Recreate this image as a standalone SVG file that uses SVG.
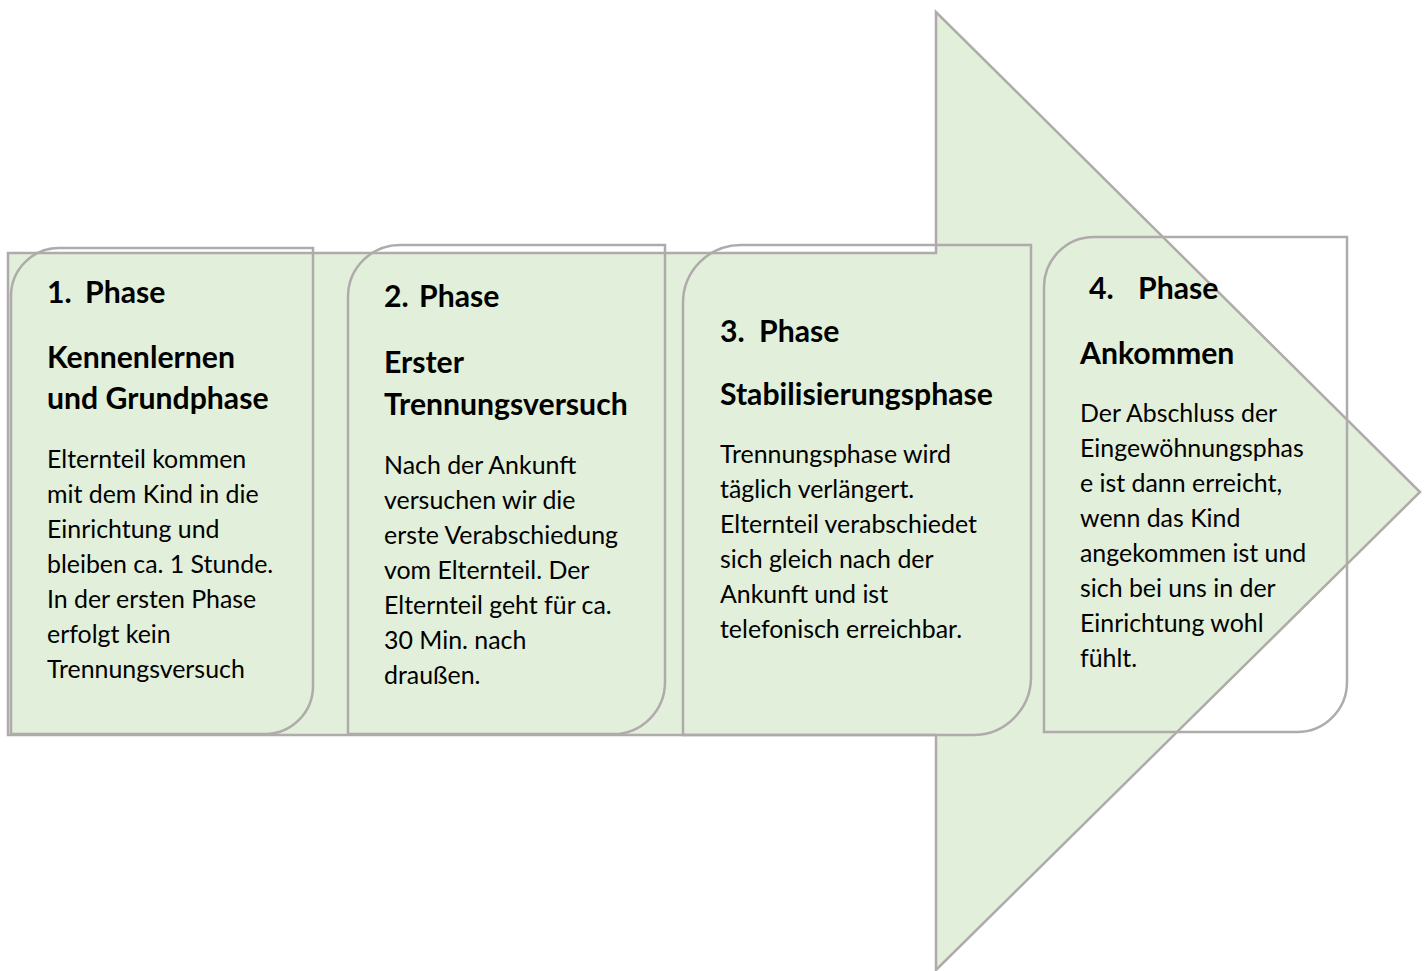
<svg xmlns="http://www.w3.org/2000/svg" width="1426" height="971" viewBox="0 0 1426 971">
<style>
.shape{stroke:#AFABAB;stroke-width:2.5;stroke-linejoin:miter}
.box{fill:none;stroke:#AFABAB;stroke-width:2.5}
.h{font-family:Lato,"Liberation Sans",sans-serif;font-weight:bold;font-size:30.2px;fill:#000}
.b{font-family:Lato,"Liberation Sans",sans-serif;font-size:24.9px;fill:#000}
</style>
<rect width="1426" height="971" fill="#fff"/>
<g id="arrow">
<path class="shape" fill="#E2EFDA" d="M8,253 L936,253 L936,12 L1420,492 L936,970 L936,735 L8,735 Z"/>
</g>
<g id="phase1">
<path class="box" d="M11,296 A48,48 0 0 1 59,248 L313,248 L313,686 A48,48 0 0 1 265,734 L11,734 Z"/>
<text class="h" y="303"><tspan x="47">1.</tspan><tspan x="85">Phase</tspan></text>
<text class="h" x="47" y="368">Kennenlernen</text>
<text class="h" x="47" y="409">und Grundphase</text>
<text class="b" x="47" y="468">Elternteil kommen</text>
<text class="b" x="47" y="503">mit dem Kind in die</text>
<text class="b" x="47" y="538">Einrichtung und</text>
<text class="b" x="47" y="573">bleiben ca. 1 Stunde.</text>
<text class="b" x="47" y="608">In der ersten Phase</text>
<text class="b" x="47" y="643">erfolgt kein</text>
<text class="b" x="47" y="678">Trennungsversuch</text>
</g>
<g id="phase2">
<path class="box" d="M348,297 A52,52 0 0 1 400,245 L665,245 L665,682 A52,52 0 0 1 613,734 L348,734 Z"/>
<text class="h" y="307"><tspan x="384">2.</tspan><tspan x="419">Phase</tspan></text>
<text class="h" x="384" y="373">Erster</text>
<text class="h" x="384" y="415">Trennungsversuch</text>
<text class="b" x="384" y="474">Nach der Ankunft</text>
<text class="b" x="384" y="509">versuchen wir die</text>
<text class="b" x="384" y="544">erste Verabschiedung</text>
<text class="b" x="384" y="579">vom Elternteil. Der</text>
<text class="b" x="384" y="614">Elternteil geht für ca.</text>
<text class="b" x="384" y="649">30 Min. nach</text>
<text class="b" x="384" y="684">draußen.</text>
</g>
<g id="phase3">
<path class="box" d="M683,303 A58,58 0 0 1 741,245 L1031,245 L1031,677 A58,58 0 0 1 973,735 L683,735 Z"/>
<text class="h" y="342"><tspan x="720">3.</tspan><tspan x="759">Phase</tspan></text>
<text class="h" x="720" y="405">Stabilisierungsphase</text>
<text class="b" x="720" y="463">Trennungsphase wird</text>
<text class="b" x="720" y="498">täglich verlängert.</text>
<text class="b" x="720" y="533">Elternteil verabschiedet</text>
<text class="b" x="720" y="568">sich gleich nach der</text>
<text class="b" x="720" y="603">Ankunft und ist</text>
<text class="b" x="720" y="638">telefonisch erreichbar.</text>
</g>
<g id="phase4">
<path class="box" d="M1044,287 A50,50 0 0 1 1094,237 L1347,237 L1347,682 A50,50 0 0 1 1297,732 L1044,732 Z"/>
<text class="h" y="299"><tspan x="1089">4.</tspan><tspan x="1138">Phase</tspan></text>
<text class="h" x="1080" y="364">Ankommen</text>
<text class="b" x="1080" y="422">Der Abschluss der</text>
<text class="b" x="1080" y="457">Eingewöhnungsphas</text>
<text class="b" x="1080" y="492">e ist dann erreicht,</text>
<text class="b" x="1080" y="527">wenn das Kind</text>
<text class="b" x="1080" y="562">angekommen ist und</text>
<text class="b" x="1080" y="597">sich bei uns in der</text>
<text class="b" x="1080" y="632">Einrichtung wohl</text>
<text class="b" x="1080" y="667">fühlt.</text>
</g>
</svg>
